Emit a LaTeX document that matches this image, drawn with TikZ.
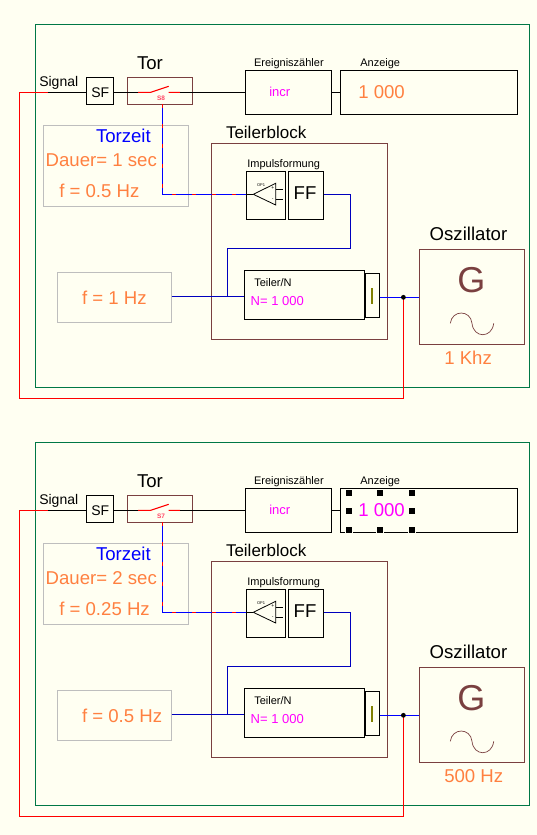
\documentclass[tikz,border=0pt]{standalone}
\usepackage{fontspec}
\setmainfont{Liberation Sans}
\usetikzlibrary{positioning}
\definecolor{PanelBg}{RGB}{255,255,242}
\definecolor{PanelGreen}{RGB}{0,120,70}
\definecolor{BlockBrown}{RGB}{122,64,64}
\definecolor{NoteGrey}{RGB}{190,190,190}
\definecolor{ValOrange}{RGB}{255,128,64}
\definecolor{ValMagenta}{RGB}{255,0,255}
\definecolor{WireBlue}{RGB}{0,0,190}
\definecolor{BarOlive}{RGB}{128,128,0}
\definecolor{SwitchPink}{RGB}{255,70,100}
\newcommand{\fsz}[1]{\fontsize{#1}{#1}\selectfont}
\begin{document}
\begin{tikzpicture}[
x=1pt,y=-1pt,line width=1.1pt,
box/.style={rectangle,draw=black,inner sep=0pt,outer sep=0pt},
brownbox/.style={box,draw=BlockBrown},
notebox/.style={box,draw=NoteGrey},
txt/.style={anchor=base west,inner sep=0pt,outer sep=0pt,font=\fsz{11}},
midtxt/.style={txt,font=\fsz{13}},
sigtxt/.style={txt,font=\fsz{14}},
bigtxt/.style={txt,font=\fsz{18.6}},
valtxt/.style={bigtxt,text=ValOrange},
bluewire/.style={draw=WireBlue},
gatewire/.style={draw=blue},
gatedash/.style={draw=red,dash pattern=on 4pt off 16pt},
redwire/.style={draw=red},
handle/.style={rectangle,fill=black,draw=PanelBg,line width=1pt,minimum size=7pt,inner sep=0pt}
]
\fill[PanelBg] (0,0) rectangle (537,835);
\useasboundingbox (0,0) rectangle (537,835);
\foreach \ofs/\swname/\dauer/\fgate/\fdiv/\fgen/\dispcol in {
0pt/S8/1 sec/0.5 Hz/1 Hz/1 Khz/ValOrange,
418pt/S7/2 sec/0.25 Hz/0.5 Hz/500 Hz/ValMagenta}{
\begin{scope}[yshift=-\ofs]
\draw[PanelGreen] (35.3,24.3) rectangle (529.3,387.3);
% upper row
\node[box,minimum width=27.4pt,minimum height=27pt] (sf) at (100,90.8) {};
\node[brownbox,right=13.6pt of sf,minimum width=65pt,minimum height=27pt] (tor) {};
\node[box,minimum width=86.4pt,minimum height=44pt] (zaehler) at (288.5,92.3) {};
\node[box,right=8.6pt of zaehler,minimum width=177pt,minimum height=44pt] (anzeige) {};
\node[sigtxt] (sflbl) at (91.3,97) {SF};
\node[sigtxt] (siglbl) at (39.3,86.3) {Signal};
\node[bigtxt] (torlbl) at (137,69.3) {Tor};
\node[txt] (zaehlerlbl) at (254,66) {Ereigniszähler};
\node[txt] (anzeigelbl) at (360.3,66) {Anzeige};
\node[midtxt,text=ValMagenta] (incrlbl) at (269.3,96) {incr};
\node[bigtxt,text=\dispcol] (wert) at (358.3,98.7) {1 000};
% torzeit
\node[notebox,minimum width=145pt,minimum height=80.6pt] (torzeit) at (115.8,166) {};
\node[bigtxt,text=blue] (torzeitlbl) at (96,142.7) {Torzeit};
\node[valtxt] (dauerlbl) at (45.7,166.7) {Dauer= \dauer};
\node[valtxt] (fgatelbl) at (59.3,197.3) {f = \fgate};
\node[notebox,minimum width=114.4pt,minimum height=50pt] (fdiv) at (114.5,297.3) {};
\node[valtxt] (fdivlbl) at (82,304) {f = \fdiv};
% teilerblock
\node[brownbox,minimum width=176pt,minimum height=196pt] (block) at (299.3,241.3) {};
\node[txt,font=\fsz{17}] (blocklbl) at (226,138.3) {Teilerblock};
\node[txt] (pulslbl) at (247.3,167.3) {Impulsformung};
\node[box,minimum width=39.4pt,minimum height=48pt] (opbox) at (266,195.3) {};
\node[box,right=2.6pt of opbox,minimum width=35.4pt,minimum height=48pt] (ffbox) {};
\node[bigtxt] (fflbl) at (293.7,199.3) {FF};
\node[box,minimum width=120.4pt,minimum height=49pt] (teiler) at (304.5,294.8) {};
\node[box,minimum width=14.4pt,minimum height=44.4pt] (rest) at (372.5,295.5) {};
\node[txt] (teilerlbl) at (254.3,286.7) {Teiler/N};
\node[midtxt,text=ValMagenta] (nlbl) at (250.7,305) {N= 1 000};
\fill[BarOlive] (370.8,287.7) rectangle (373.3,304.3);
% opamp
\coordinate (optip) at (253.3,194.3);
\coordinate (opup) at (275.7,183.3);
\coordinate (opdn) at (275.7,205);
\draw[line width=.8pt] (optip) -- (opup) -- (opdn) -- cycle;
\draw[line width=.8pt] (opbox.west |- optip) -- (optip);
\draw[line width=.8pt] (275.7,189) -- (283,189) (275.7,199.5) -- (283,199.5);
\node[txt,font=\fsz{4}] (oplbl) at (257,186.8) {OP1};
\node[txt,font=\fsz{5}] (opplus) at (271.3,189.5) {+};
\node[txt,font=\fsz{5}] (opminus) at (271.8,200.5) {-};
% oszillator
\node[brownbox,minimum width=105pt,minimum height=95pt] (osz) at (471.8,296.8) {};
\node[bigtxt] (oszlbl) at (429.7,240.7) {Oszillator};
\node[txt,font=\fsz{36},text=BlockBrown] (glbl) at (457.3,292.7) {G};
\node[valtxt] (fgenlbl) at (444.3,364.3) {\fgen};
\draw[BlockBrown,line width=.7pt] (450.3,323.3) .. controls (452,309.6) and (470.5,309.6) .. (472,323.3) .. controls (473.5,338.5) and (492,338.5) .. (493.7,323.3);
% schalter
\coordinate (swa) at (138,92.3);
\coordinate (swb) at (150.7,92.3);
\coordinate (swc) at (168.7,86.3);
\coordinate (swd) at (168.7,92.3);
\coordinate (swe) at (180,92.3);
\draw (sf.east |- swa) -- (swa);
\draw[redwire] (swa) -- (swb) -- (swc) (swd) -- (swe);
\draw (swe) -- (zaehler.west);
\node[txt,font=\bfseries\fsz{6.5},text=SwitchPink] (swlbl) at (157,100) {\swname};
% wires
\coordinate (sigred) at (47.5,92.3);
\draw (sigred) -- (sf.west |- sigred);
\draw (zaehler.east) -- (anzeige.west);
\coordinate (tap) at (162.3,104.3);
\coordinate (opin) at (opbox.west |- optip);
\draw[gatewire] (tap) |- (opin);
\draw[gatedash] (tap) |- (opin);
\coordinate (ffout) at (ffbox.east |- optip);
\coordinate (merge) at (227.3,296.3);
\draw[bluewire] (ffout) -- (350.3,194.3) -- (350.3,248.3) -- (227.3,248.3) -- (merge);
\draw[bluewire] (fdiv.east |- merge) -- (teiler.west |- merge);
\coordinate (dot) at (403.4,297.3);
\draw[gatewire] (rest.east |- dot) -- (osz.west |- dot);
\draw[redwire] (dot) -- (403.4,398.3) -- (19.3,398.3) -- (19.3,92.3) -- (sigred);
\fill (dot) circle (2.4pt);
\end{scope}
}
% markierung anzeige
\foreach \hx/\hy [count=\hi] in {349/493,380/493,412/493,349/511,412/511,349/530,380/530,412/530}
\node[handle] (h\hi) at (\hx,\hy) {};
\end{tikzpicture}
\end{document}
